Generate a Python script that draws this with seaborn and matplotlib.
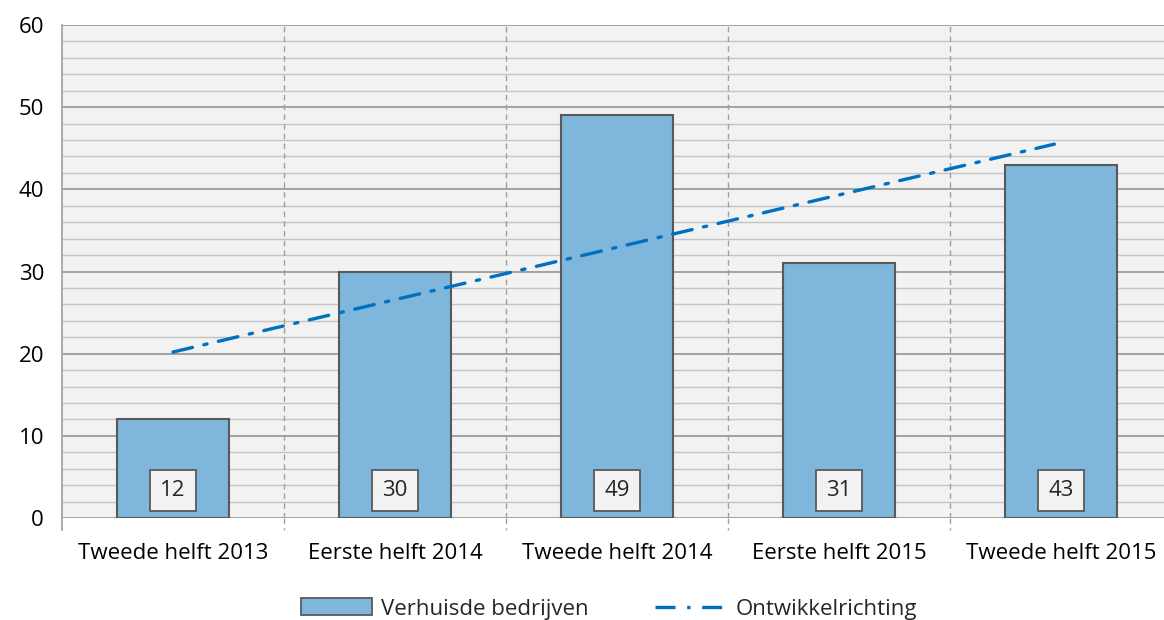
import numpy as np
import pandas as pd
import matplotlib
matplotlib.use("Agg")
import matplotlib.pyplot as plt
from matplotlib.ticker import MultipleLocator
from matplotlib.patches import Patch
from matplotlib.lines import Line2D
import seaborn as sns

categories = ["Tweede helft 2013", "Eerste helft 2014", "Tweede helft 2014",
              "Eerste helft 2015", "Tweede helft 2015"]
verhuisd = [12, 30, 49, 31, 43]
# trend line ends (category index, value)
trend_x = [0.0, 3.97]
trend_y = [20.2, 45.5]

sns.set_style("white")
plt.rcParams["font.family"] = ["Open Sans", "DejaVu Sans"]
FS = 16

df = pd.DataFrame({"periode": categories, "aantal": verhuisd})

fig = plt.figure(figsize=(11.64, 6.2), dpi=100)
ax = fig.add_axes([62 / 1164, 1 - 518 / 620, 1110 / 1164, 493 / 620])
ax.set_facecolor("#f2f2f2")

sns.barplot(data=df, x="periode", y="aantal", color="#7eb6dc", edgecolor="#595959",
            linewidth=1.5, width=0.505, saturation=1, ax=ax, zorder=3)
sns.lineplot(x=trend_x, y=trend_y, ax=ax, color="#0070c0", linewidth=2.4,
             dashes=False, zorder=4)
ax.lines[-1].set_dashes([6, 3.5, 1, 3.5])
ax.lines[-1].set_solid_capstyle("round")
ax.lines[-1].set_dash_capstyle("round")

for i, v in enumerate(verhuisd):
    ax.text(i, 3.3, str(v), ha="center", va="center", fontsize=FS, zorder=5,
            bbox=dict(boxstyle="square,pad=0.45", fc="#f2f2f2", ec="#595959", lw=1.3))

ax.set_ylim(0, 60)
ax.set_xlim(-0.5, 4.5)
ax.yaxis.set_major_locator(MultipleLocator(10))
ax.yaxis.set_minor_locator(MultipleLocator(2))
ax.grid(axis="y", which="major", color="#8c8c8c", lw=1.1, zorder=0)
ax.grid(axis="y", which="minor", color="#c4c4c4", lw=1.0, zorder=0)
ax.set_axisbelow(True)
for b in [0.5, 1.5, 2.5, 3.5]:
    ax.axvline(b, color="#a0a0a0", lw=1, ls=(0, (4, 3)), zorder=1)
    ax.plot([b, b], [0, -1.5], color="#a0a0a0", lw=1, ls=(0, (4, 3)), clip_on=False)

for s in ["top", "right", "bottom"]:
    ax.spines[s].set_visible(False)
ax.spines["left"].set_color("#a6a6a6")
ax.spines["left"].set_linewidth(1.3)
ax.spines["left"].set_bounds(-1.5, 60)
ax.tick_params(axis="y", which="major", length=7, color="#8c8c8c", labelsize=FS, pad=6,
               labelcolor="#000000")
ax.tick_params(axis="y", which="minor", length=0)
ax.tick_params(axis="x", length=0, labelsize=FS, pad=18, labelcolor="#000000")
ax.set_xlabel("")
ax.set_ylabel("")

handles = [Patch(facecolor="#7eb6dc", edgecolor="#595959", lw=1.3),
           Line2D([0], [0], color="#0070c0", lw=2.4, dashes=[6, 3.5, 1, 3.5])]
fig.legend(handles, ["Verhuisde bedrijven", "Ontwikkelrichting"], loc="center",
           bbox_to_anchor=(0.523, 1 - 609 / 620), ncol=2, frameon=False, fontsize=FS,
           handlelength=3.2, handleheight=0.8, handletextpad=0.4, columnspacing=3.0)

fig.savefig("out.png", dpi=100)
